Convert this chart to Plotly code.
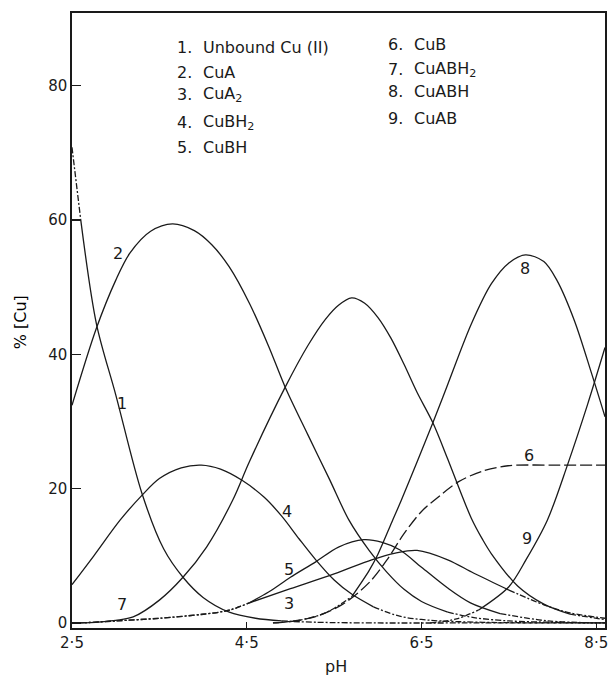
import plotly.graph_objects as go

# ---------------- data ----------------
ph1 = [2.5, 2.6, 2.78, 3.0, 3.3, 3.55, 3.77, 4.0, 4.3, 4.6, 4.9, 5.3, 6.0, 7.0, 8.6]
cu1 = [70.8, 60.0, 44.5, 34.0, 19.3, 11.0, 6.8, 3.8, 1.6, 0.7, 0.3, 0.1, 0.0, 0.0, 0.0]

ph2 = [2.5, 2.78, 3.0, 3.16, 3.4, 3.65, 3.9, 4.1, 4.3, 4.53, 4.75, 4.94, 5.2, 5.45,
       5.67, 5.9, 6.1, 6.3, 6.5, 6.8, 7.1, 7.5, 8.0, 8.6]
cu2 = [32.4, 43.9, 51.0, 55.0, 58.3, 59.4, 58.4, 56.3, 53.0, 47.6, 41.2, 35.1, 28.0, 21.3,
       15.3, 10.8, 7.6, 5.0, 3.2, 1.6, 0.8, 0.3, 0.1, 0.0]

ph3 = [2.6, 3.0, 3.5, 4.0, 4.3, 4.53, 5.0, 5.5, 5.93, 6.2, 6.45, 6.8, 7.1, 7.5, 7.9, 8.2, 8.6]
cu3 = [0.0, 0.3, 0.7, 1.3, 1.9, 3.0, 5.1, 7.3, 9.4, 10.4, 10.8, 9.4, 7.4, 4.9, 2.7, 1.5, 0.7]

ph4 = [2.5, 2.75, 3.05, 3.3, 3.5, 3.75, 3.98, 4.2, 4.45, 4.7, 4.9, 5.1, 5.29, 5.5, 5.7,
       5.95, 6.25, 6.6, 7.2, 8.6]
cu4 = [5.7, 10.0, 15.3, 19.0, 21.5, 23.1, 23.5, 22.9, 21.2, 18.7, 15.9, 12.5, 9.4, 6.4, 4.3,
       2.4, 1.0, 0.4, 0.1, 0.0]

ph5 = [2.6, 3.0, 3.5, 4.0, 4.3, 4.53, 4.75, 5.0, 5.29, 5.55, 5.84, 6.05, 6.25, 6.5, 6.8,
       7.06, 7.4, 7.95, 8.6]
cu5 = [0.0, 0.3, 0.7, 1.3, 1.9, 3.0, 4.6, 6.8, 9.1, 11.3, 12.4, 12.0, 10.9, 8.3, 5.2,
       3.0, 1.4, 0.3, 0.0]

ph6 = [4.8, 5.0, 5.3, 5.6, 5.9, 6.1, 6.3, 6.5, 6.65, 6.92, 7.2, 7.49, 8.0, 8.6]
cu6 = [0.0, 0.2, 1.0, 2.8, 6.0, 9.3, 13.3, 16.6, 18.3, 21.0, 22.6, 23.4, 23.5, 23.5]

ph7 = [2.65, 3.0, 3.2, 3.5, 3.77, 4.04, 4.34, 4.53, 4.94, 5.2, 5.4, 5.55, 5.7, 5.85, 6.0,
       6.15, 6.3, 6.45, 6.63, 6.8, 6.95, 7.07, 7.2, 7.3, 7.6, 7.9, 8.2, 8.6]
cu7 = [0.0, 0.4, 0.9, 3.4, 6.8, 11.3, 18.3, 24.0, 35.1, 41.3, 45.2, 47.3, 48.4, 47.6, 45.5,
       42.4, 38.5, 34.3, 29.8, 24.4, 19.4, 15.6, 12.4, 10.3, 5.5, 2.8, 1.3, 0.5]

ph8 = [4.8, 5.1, 5.4, 5.7, 5.9, 6.0, 6.16, 6.27, 6.45, 6.63, 6.8, 7.07, 7.3, 7.5, 7.69,
       7.9, 8.05, 8.25, 8.45, 8.6]
cu8 = [0.0, 0.4, 1.5, 3.9, 7.8, 10.2, 15.0, 18.3, 24.0, 29.8, 35.5, 44.5, 50.5, 53.6, 54.8,
       53.8, 51.0, 45.0, 37.0, 30.7]

ph9 = [6.6, 6.9, 7.15, 7.5, 7.7, 7.94, 8.17, 8.4, 8.6]
cu9 = [0.0, 0.6, 1.9, 5.4, 9.5, 15.3, 23.5, 32.5, 41.0]

legend_nums = ["1.", "2.", "3.", "4.", "5.", "6.", "7.", "8.", "9."]
legend_names = ["Unbound Cu (II)", "CuA", "CuA<sub>2</sub>", "CuBH<sub>2</sub>", "CuBH",
                "CuB", "CuABH<sub>2</sub>", "CuABH", "CuAB"]

curve_labels = ["1", "2", "3", "4", "5", "6", "7", "8", "9"]
label_ph = [3.07, 3.03, 4.98, 4.96, 4.98, 7.73, 3.07, 7.69, 7.71]
label_cu = [32.6, 55.0, 2.9, 16.6, 7.9, 25.0, 2.7, 52.8, 12.6]

x_ticks = [2.5, 4.5, 6.5, 8.5]
x_tick_text = ["2·5", "4·5", "6·5", "8·5"]
y_ticks = [0, 20, 40, 60, 80]

# ---------------- styling ----------------
DD = "6px,2px,2px,2px"
LD = "12px,4px"
segments = {
    1: [(2.5, 2.6, DD), (2.6, 4.9, "solid"), (4.9, 8.6, DD)],
    2: [(2.5, 6.8, "solid"), (6.8, 8.6, DD)],
    3: [(2.6, 4.53, DD), (4.53, 7.5, "solid"), (7.5, 8.6, DD)],
    4: [(2.5, 5.95, "solid"), (5.95, 8.6, DD)],
    5: [(2.6, 4.53, DD), (4.53, 7.4, "solid"), (7.4, 8.6, DD)],
    6: [(4.8, 8.6, LD)],
    7: [(2.65, 8.2, "solid"), (8.2, 8.6, DD)],
    8: [(4.8, 5.7, DD), (5.7, 8.6, "solid")],
    9: [(6.6, 7.15, DD), (7.15, 8.6, "solid")],
}
series = {1: (ph1, cu1), 2: (ph2, cu2), 3: (ph3, cu3), 4: (ph4, cu4), 5: (ph5, cu5),
          6: (ph6, cu6), 7: (ph7, cu7), 8: (ph8, cu8), 9: (ph9, cu9)}

INK = "#1a1a1a"
FONT = "DejaVu Sans"

fig = go.Figure()
for k, (xs, ys) in series.items():
    for lo, hi, dash in segments[k]:
        sx = [x for x in xs if lo - 1e-9 <= x <= hi + 1e-9]
        sy = [y for x, y in zip(xs, ys) if lo - 1e-9 <= x <= hi + 1e-9]
        fig.add_trace(go.Scatter(
            x=sx, y=sy, mode="lines",
            line=dict(color=INK, width=1.3, dash=dash, shape="spline", smoothing=0.9),
            showlegend=False, hoverinfo="skip"))

# curve number labels
for t, x, y in zip(curve_labels, label_ph, label_cu):
    fig.add_annotation(x=x, y=y, xref="x", yref="y", text=t, showarrow=False,
                       font=dict(family=FONT, size=16, color=INK))

# legend block (text)
PL, PW, PT, PH = 72, 536, 13, 615
def px(xp):
    return (xp - PL) / PW
def py(yp):
    return (PT + PH - yp) / PH

col_rows = [47, 72, 95, 122, 148, 45, 70, 92, 118]
for i, (n, name) in enumerate(zip(legend_nums, legend_names)):
    if i < 5:
        xn, xt = 176, 202
    else:
        xn, xt = 388, 414
    yy = col_rows[i]
    fig.add_annotation(x=px(xn), y=py(yy), xref="paper", yref="paper", text=n,
                       showarrow=False, xanchor="left", yanchor="middle",
                       font=dict(family=FONT, size=16, color=INK))
    fig.add_annotation(x=px(xt), y=py(yy), xref="paper", yref="paper", text=name,
                       showarrow=False, xanchor="left", yanchor="middle",
                       font=dict(family=FONT, size=16, color=INK))

# axis titles
fig.add_annotation(x=px(337), y=py(666), xref="paper", yref="paper", text="pH",
                   showarrow=False, xanchor="center", yanchor="middle",
                   font=dict(family=FONT, size=16, color=INK))
fig.add_annotation(x=px(20), y=py(322), xref="paper", yref="paper", text="% [Cu]",
                   showarrow=False, xanchor="center", yanchor="middle", textangle=-90,
                   font=dict(family=FONT, size=16, color="#000000"))

fig.update_xaxes(range=[2.5, 8.6], tickvals=x_ticks, ticktext=x_tick_text,
                 ticks="inside", ticklen=6, tickwidth=1.3, tickcolor=INK,
                 showline=True, linecolor=INK, linewidth=1.6, mirror=True,
                 showgrid=False, zeroline=False,
                 tickfont=dict(family=FONT, size=15, color=INK))
fig.update_yaxes(range=[-0.75, 90.8], tickvals=y_ticks,
                 ticks="inside", ticklen=9, tickwidth=1.3, tickcolor=INK,
                 showline=True, linecolor=INK, linewidth=1.6, mirror=True,
                 showgrid=False, zeroline=False,
                 tickfont=dict(family=FONT, size=15, color=INK))

fig.update_layout(width=616, height=676, margin=dict(l=72, r=8, t=13, b=48),
                  paper_bgcolor="white", plot_bgcolor="white", showlegend=False)

fig.write_html("out.html", config={"displayModeBar": False, "staticPlot": True},
               post_script="document.body.style.margin='0px';document.body.style.overflow='hidden';")
